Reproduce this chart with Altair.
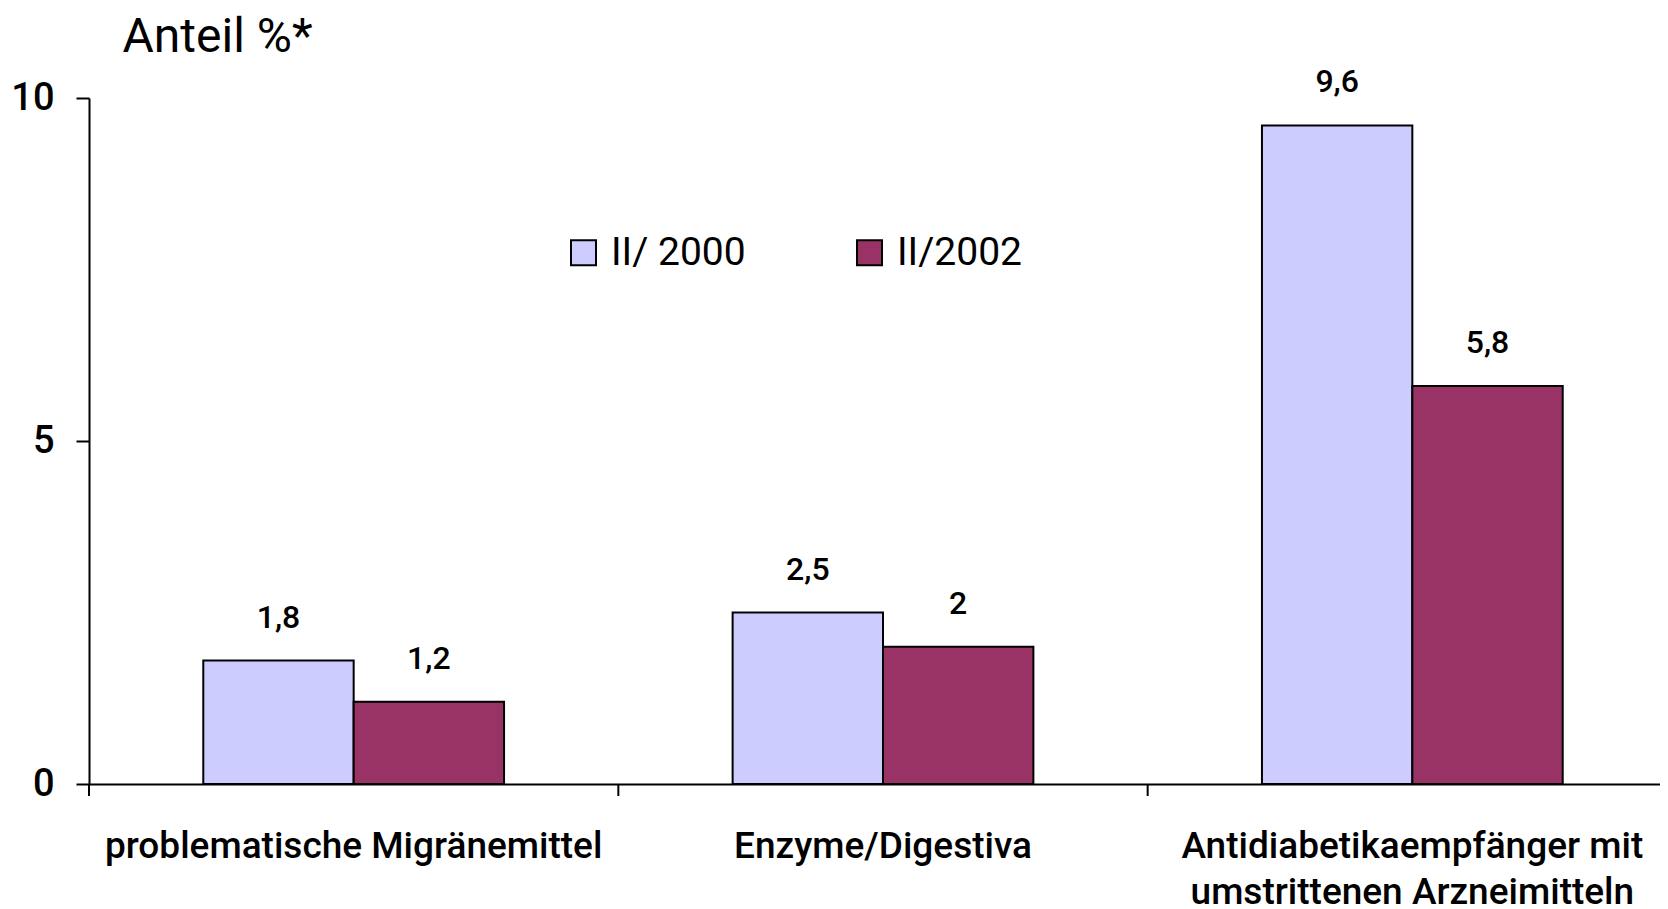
import altair as alt
import pandas as pd

categories = ["problematische Migränemittel", "Enzyme/Digestiva",
              "Antidiabetikaempfänger mit|umstrittenen Arzneimitteln"]
series = ["II/ 2000", "II/2002"]
values_2000 = [1.8, 2.5, 9.6]
values_2002 = [1.2, 2.0, 5.8]
labels_2000 = ["1,8", "2,5", "9,6"]
labels_2002 = ["1,2", "2", "5,8"]
colors = ["#CCCCFF", "#993366"]
y_ticks = [0, 5, 10]

rows = []
for c, v, l in zip(categories, values_2000, labels_2000):
    rows.append({"cat": c, "serie": series[0], "wert": v, "txt": l})
for c, v, l in zip(categories, values_2002, labels_2002):
    rows.append({"cat": c, "serie": series[1], "wert": v, "txt": l})
df = pd.DataFrame(rows)
cat_df = pd.DataFrame({"cat": categories})

FONT = "Roboto"
W, H = 1571, 686

xscale = alt.Scale(domain=categories, range=[0, 1588], paddingInner=0, paddingOuter=0)
xoff = alt.XOffset("serie:N", sort=series,
                   scale=alt.Scale(domain=series, paddingOuter=0.76, paddingInner=0))

x_axis = alt.Axis(title=None, ticks=False, domain=True, domainColor="black", domainWidth=2,
                  labelAngle=0, labelFontSize=37, labelFont=FONT, labelFontWeight=500,
                  labelColor="black", labelPadding=44, labelLimit=2000,
                  labelExpr="split(datum.label, '|')", labelLineHeight=46, grid=False)
y_axis = alt.Axis(title="Anteil %*", titleAngle=0, titleAlign="left", titleBaseline="alphabetic",
                  titleX=33, titleY=-47, titleFontSize=48, titleFont=FONT, titleFontWeight="normal",
                  titleColor="black", values=y_ticks, format="d", domainColor="black", domainWidth=2,
                  tickColor="black", tickWidth=2, tickSize=13, labelFontSize=38, labelFont=FONT,
                  labelFontWeight=500, labelColor="black", labelPadding=22, grid=False)

bars = alt.Chart(df).mark_bar(stroke="black", strokeWidth=2).encode(
    x=alt.X("cat:N", sort=categories, scale=xscale, axis=x_axis),
    xOffset=xoff,
    y=alt.Y("wert:Q", scale=alt.Scale(domain=[0, 10], nice=False), axis=y_axis),
    color=alt.Color("serie:N", sort=series,
                    scale=alt.Scale(domain=series, range=colors),
                    legend=alt.Legend(title=None, orient="none", legendX=475, legendY=135,
                                      direction="horizontal", symbolType="square",
                                      symbolSize=625, symbolStrokeColor="black",
                                      symbolStrokeWidth=2, symbolOpacity=1,
                                      labelFontSize=39, labelFont=FONT, labelColor="black",
                                      labelOffset=8, columnPadding=104, padding=0)),
)

texts = alt.Chart(df).mark_text(baseline="alphabetic", dy=-33, fontSize=32, font=FONT,
                                fontWeight=500, color="black").encode(
    x=alt.X("cat:N", sort=categories, scale=xscale, axis=x_axis),
    xOffset=xoff,
    y=alt.Y("wert:Q"),
    text="txt:N",
)

ticks = alt.Chart(cat_df).mark_rule(color="black", strokeWidth=2).encode(
    x=alt.X("cat:N", sort=categories, scale=xscale, bandPosition=0, axis=x_axis),
    y=alt.value(H),
    y2=alt.value(H + 12),
)

chart = alt.layer(bars, texts, ticks).properties(
    width=W, height=H,
    background="white",
    autosize=alt.AutoSizeParams(type="none"),
    padding={"left": 81, "top": 90, "right": 0, "bottom": 135},
).configure_view(stroke=None)

chart.save("out.html", embed_options={"renderer": "svg", "actions": False})
